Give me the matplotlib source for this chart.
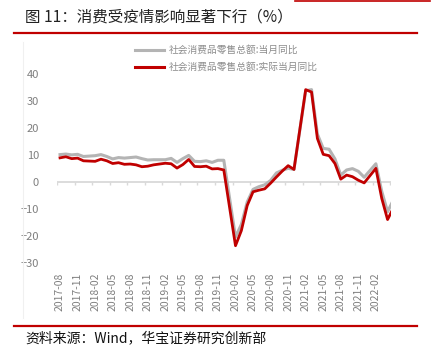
import matplotlib.pyplot as plt
from matplotlib.lines import Line2D

plt.rcParams['font.family'] = ['Noto Sans CJK SC', 'DejaVu Sans']

# monthly data, Jan merged into Feb (Jan-Feb reported together)
months = [
    "2017-08", "2017-09", "2017-10", "2017-11", "2017-12",
    "2018-02", "2018-03", "2018-04", "2018-05", "2018-06", "2018-07",
    "2018-08", "2018-09", "2018-10", "2018-11", "2018-12",
    "2019-02", "2019-03", "2019-04", "2019-05", "2019-06", "2019-07",
    "2019-08", "2019-09", "2019-10", "2019-11", "2019-12",
    "2020-02", "2020-03", "2020-04", "2020-05", "2020-06", "2020-07",
    "2020-08", "2020-09", "2020-10", "2020-11", "2020-12",
    "2021-02", "2021-03", "2021-04", "2021-05", "2021-06", "2021-07",
    "2021-08", "2021-09", "2021-10", "2021-11", "2021-12",
    "2022-02", "2022-03", "2022-04", "2022-05",
]
nominal = [
    10.1, 10.3, 10.0, 10.2, 9.4,
    9.7, 10.1, 9.4, 8.5, 9.0, 8.8,
    9.0, 9.2, 8.6, 8.1, 8.2,
    8.2, 8.7, 7.2, 8.6, 9.8, 7.6,
    7.5, 7.8, 7.2, 8.0, 8.0,
    -20.5, -15.8, -7.5, -2.8, -1.8, -1.1,
    0.5, 3.3, 4.3, 5.0, 4.6,
    33.8, 34.2, 17.7, 12.4, 12.1, 8.5,
    2.5, 4.4, 4.9, 3.9, 1.7,
    6.7, -3.5, -11.1, -6.7,
]
real = [
    8.9, 9.3, 8.6, 8.8, 7.8,
    7.6, 8.4, 7.8, 6.8, 7.1, 6.5,
    6.6, 6.3, 5.6, 5.8, 6.3,
    6.9, 6.7, 5.1, 6.4, 8.3, 5.7,
    5.6, 5.8, 4.8, 4.9, 4.4,
    -23.7, -18.1, -8.8, -3.7, -3.1, -2.6,
    -0.5, 1.8, 4.0, 6.0, 4.6,
    34.2, 33.3, 16.1, 10.2, 9.7, 6.8,
    1.0, 2.5, 1.9, 0.6, -0.4,
    5.0, -6.1, -14.0, -9.7,
]
tick_labels = [
    "2017-08", "2017-11", "2018-02", "2018-05", "2018-08", "2018-11",
    "2019-02", "2019-05", "2019-08", "2019-11", "2020-02", "2020-05",
    "2020-08", "2020-11", "2021-02", "2021-05", "2021-08", "2021-11",
    "2022-02",
]
name_nominal = "社会消费品零售总额:当月同比"
name_real = "社会消费品零售总额:实际当月同比"


def month_index(s):
    y, m = s.split("-")
    return (int(y) - 2017) * 12 + int(m) - 8


x = [month_index(s) for s in months]
xt = [month_index(s) for s in tick_labels]

W, H = 435, 357
fig = plt.figure(figsize=(W / 100, H / 100), dpi=100)

# axes placed in pixel coords
left, right, top, bottom = 57.1, 390.5, 74.0, 262.7
ax = fig.add_axes([left / W, 1 - bottom / H, (right - left) / W, (bottom - top) / H])
ax.set_xlim(-0.5, 56.5)
ax.set_ylim(-30, 40)
for s in ax.spines.values():
    s.set_visible(False)

ax.axhline(0, color="#d9d9d9", lw=1.3, zorder=1)
ax.vlines([t - 0.5 for t in xt] + [56.5], -1.2, 0, color="#d9d9d9", lw=1.0, zorder=1)

ax.plot(x, nominal, color="#b4b4b4", lw=2.2, zorder=2, solid_joinstyle="round")
ax.plot(x, real, color="#c00000", lw=2.0, zorder=3, solid_joinstyle="round")

ax.set_yticks(range(-30, 41, 10))
ax.set_xticks(xt)
ax.set_xticklabels(tick_labels, rotation=90, va="top", ha="center")
ax.tick_params(axis="y", length=0, pad=13, labelsize=8, labelcolor="#7f7f7f")
ax.tick_params(axis="x", length=0, pad=7, labelsize=7.5, labelcolor="#7f7f7f")

handles = [Line2D([], [], color="#b4b4b4", lw=2.2),
           Line2D([], [], color="#c00000", lw=2.2)]
fig.legend(handles, [name_nominal, name_real], loc="upper left",
           bbox_to_anchor=(135 / W, 1 - 45 / H), frameon=False,
           fontsize=7, labelcolor="#8c8c8c", handlelength=3.0,
           handletextpad=0.5, labelspacing=0.75, borderpad=0, borderaxespad=0)

# faint chart-area border on the left
fig.add_artist(Line2D([23 / W, 23 / W], [1 - 42 / H, 1 - 318 / H], color="#f0f0f0", lw=0.8))

# header and footer rules
fig.add_artist(Line2D([14 / W, 417 / W], [1 - 32.5 / H] * 2, color="#c00000", lw=1.6))
fig.add_artist(Line2D([295 / W, 430 / W], [1 - 0.5 / H] * 2, color="#c00000", lw=1.2))
fig.add_artist(Line2D([14 / W, 417 / W], [1 - 326 / H] * 2, color="#c00000", lw=1.6))

fig.text(25 / W, 1 - 17 / H, "图 11：消费受疫情影响显著下行（%）", fontsize=11.2,
         color="#222222", va="center", ha="left")
fig.text(25 / W, 1 - 338 / H, "资料来源：Wind，华宝证券研究创新部", fontsize=10,
         color="#111111", va="center", ha="left")

fig.savefig("out.png", dpi=100)
